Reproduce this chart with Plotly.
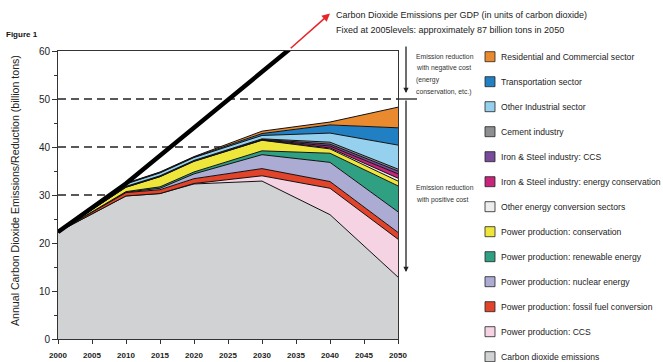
import plotly.graph_objects as go

# ---------------- data ----------------
years = [2000, 2010, 2015, 2020, 2030, 2040, 2050]

# layers, bottom to top (billion tons)
co2_emissions      = [22.3, 29.8, 30.3, 32.3, 32.9, 25.9, 12.9]
pp_ccs             = [0.0, 0.0, 0.0, 0.1, 1.1, 5.5, 7.9]
pp_fossil          = [0.0, 0.7, 0.8, 1.0, 1.5, 1.4, 1.4]
pp_nuclear         = [0.0, 0.1, 0.3, 1.0, 2.9, 4.0, 4.3]
pp_renewable       = [0.0, 0.1, 0.3, 0.4, 0.8, 1.9, 5.4]
pp_conservation    = [0.0, 0.9, 2.1, 2.2, 2.2, 0.9, 1.0]
other_energy_conv  = [0.0, 0.05, 0.05, 0.05, 0.05, 0.2, 0.6]
iron_conservation  = [0.0, 0.05, 0.05, 0.05, 0.05, 0.4, 0.9]
iron_ccs           = [0.0, 0.05, 0.05, 0.05, 0.1, 0.4, 0.6]
cement             = [0.0, 0.05, 0.05, 0.05, 0.1, 0.4, 0.4]
other_industrial   = [0.0, 0.5, 0.6, 0.6, 0.7, 1.9, 5.0]
transportation     = [0.0, 0.1, 0.1, 0.1, 0.4, 1.7, 3.6]
residential        = [0.0, 0.05, 0.1, 0.1, 0.5, 0.6, 4.3]

layer_names = [
    "Carbon dioxide emissions",
    "Power production: CCS",
    "Power production: fossil fuel conversion",
    "Power production: nuclear energy",
    "Power production: renewable energy",
    "Power production: conservation",
    "Other energy conversion sectors",
    "Iron & Steel industry: energy conservation",
    "Iron & Steel industry: CCS",
    "Cement industry",
    "Other Industrial sector",
    "Transportation sector",
    "Residential and Commercial sector",
]
layer_values = [co2_emissions, pp_ccs, pp_fossil, pp_nuclear, pp_renewable,
                pp_conservation, other_energy_conv, iron_conservation, iron_ccs,
                cement, other_industrial, transportation, residential]
layer_colors = ["#D1D2D4", "#F5D3E3", "#E2432B", "#ABABD3", "#2FA182",
                "#EFE63C", "#EDEDED", "#C8247C", "#7A4A9B", "#8D8E90",
                "#95D1EE", "#2180C3", "#EA8A2E"]

# emissions per GDP fixed at 2005 level
gdp_years = [2000, 2010, 2034]
gdp_values = [22.3, 32.4, 60.3]
gdp_arrow_tip_year = 2040
gdp_arrow_tip_value = 67.8

x_ticks = list(range(2000, 2051, 5))
y_ticks = list(range(0, 61, 10))

# ---------------- layout helpers ----------------
W, H = 663, 362
L, R, T, B = 58, 398, 51, 339
X0, X1, Y0, Y1 = 2000, 2050, 0, 60


def px(x):
    return (x - L) / (R - L)


def py(y):
    return (B - y) / (B - T)


def data_px_x(v):
    return L + (v - X0) / (X1 - X0) * (R - L)


def data_px_y(v):
    return B - (v - Y0) / (Y1 - Y0) * (B - T)


FONT = "Liberation Sans, Arial, sans-serif"

fig = go.Figure()

for name, vals, col in zip(layer_names, layer_values, layer_colors):
    fig.add_trace(go.Scatter(
        x=years, y=vals, name=name, stackgroup="one", mode="lines",
        line=dict(color="#111111", width=1), fillcolor=col,
        showlegend=False, hoverinfo="x+y+name"))

fig.add_trace(go.Scatter(
    x=gdp_years, y=gdp_values, mode="lines",
    line=dict(color="black", width=4.5), showlegend=False))

shapes = []
for yv in (30, 40, 50):
    shapes.append(dict(type="line", xref="x", yref="y", x0=2000, x1=2050,
                       y0=yv, y1=yv, layer="below",
                       line=dict(color="#222222", width=1.3, dash="8px,5px")))
# solid tick at 50 on the right
shapes.append(dict(type="line", xref="paper", yref="paper", x0=px(398), x1=px(417),
                   y0=py(99), y1=py(99), line=dict(color="#222222", width=1.3)))

annotations = []
# red arrow continuation of the GDP line (beyond the plot frame)
tip_x, tip_y = data_px_x(gdp_arrow_tip_year), data_px_y(gdp_arrow_tip_value)
tail_x, tail_y = data_px_x(gdp_years[-1]), data_px_y(gdp_values[-1])
annotations.append(dict(x=px(tip_x), y=py(tip_y), xref="paper", yref="paper",
                        ax=tail_x - tip_x, ay=tail_y - tip_y, axref="pixel", ayref="pixel",
                        showarrow=True, arrowhead=2, arrowsize=1, arrowwidth=1.6,
                        arrowcolor="#E8262A", text=""))
# vertical arrows on the right
annotations.append(dict(x=px(406), y=py(93), xref="paper", yref="paper",
                        ax=0, ay=45 - 93, axref="pixel", ayref="pixel",
                        showarrow=True, arrowhead=2, arrowsize=0.8, arrowwidth=1.3,
                        arrowcolor="#222222", text=""))
annotations.append(dict(x=px(406), y=py(272), xref="paper", yref="paper",
                        ax=0, ay=99 - 272, axref="pixel", ayref="pixel",
                        showarrow=True, arrowhead=2, arrowsize=0.8, arrowwidth=1.3,
                        arrowcolor="#222222", text=""))

# top text
annotations.append(dict(x=px(334), y=py(15), xref="paper", yref="paper",
                        text="Carbon Dioxide Emissions per GDP (in units of carbon dioxide)",
                        showarrow=False, xanchor="left", yanchor="middle",
                        font=dict(family=FONT, size=9, color="#222222")))
annotations.append(dict(x=px(334), y=py(30), xref="paper", yref="paper",
                        text="Fixed at 2005levels: approximately 87 billion tons in 2050",
                        showarrow=False, xanchor="left", yanchor="middle",
                        font=dict(family=FONT, size=9, color="#222222")))

# side notes
neg_lines = ["Emission reduction", "with negative cost", "(energy", "conservation, etc.)"]
for i, t in enumerate(neg_lines):
    annotations.append(dict(x=px(414), y=py(56.5 + 11.7 * i), xref="paper", yref="paper",
                            text=t, showarrow=False, xanchor="left", yanchor="middle",
                            font=dict(family=FONT, size=6.8, color="#333333")))
pos_lines = ["Emission reduction", "with positive cost"]
for i, t in enumerate(pos_lines):
    annotations.append(dict(x=px(414), y=py(187 + 12.5 * i), xref="paper", yref="paper",
                            text=t, showarrow=False, xanchor="left", yanchor="middle",
                            font=dict(family=FONT, size=6.8, color="#333333")))

# figure label
annotations.append(dict(x=px(4), y=py(35), xref="paper", yref="paper",
                        text="<b>Figure 1</b>", showarrow=False, xanchor="left",
                        yanchor="middle", font=dict(family=FONT, size=8, color="#111111")))

# y-axis title
annotations.append(dict(x=px(15), y=py(191), xref="paper", yref="paper",
                        text="Annual Carbon Dioxide Emissions/Reduction (billion tons)",
                        textangle=-90, showarrow=False, xanchor="center", yanchor="middle",
                        font=dict(family=FONT, size=10.6, color="#222222")))

# manual legend (top to bottom)
for i in range(len(layer_names)):
    k = len(layer_names) - 1 - i
    cy = 56.7 + 25.0 * i
    shapes.append(dict(type="rect", xref="paper", yref="paper",
                       x0=px(485), x1=px(495), y0=py(cy + 5), y1=py(cy - 5),
                       fillcolor=layer_colors[k], line=dict(color="#222222", width=0.8)))
    annotations.append(dict(x=px(498.5), y=py(cy), xref="paper", yref="paper",
                            text=layer_names[k], showarrow=False, xanchor="left",
                            yanchor="middle",
                            font=dict(family=FONT, size=8.6, color="#222222")))

fig.update_layout(
    width=W, height=H,
    margin=dict(l=L, r=W - R, t=T, b=H - B, pad=0, autoexpand=False),
    paper_bgcolor="white", plot_bgcolor="white",
    showlegend=False,
    shapes=shapes, annotations=annotations,
    xaxis=dict(range=[X0, X1], tickvals=x_ticks, ticktext=[str(v) for v in x_ticks],
               ticks="outside", ticklen=4, tickcolor="#333333", tickwidth=1,
               ticklabelstandoff=4, automargin=False,
               showline=True, linecolor="#333333", linewidth=1, mirror=True,
               showgrid=False, zeroline=False,
               tickfont=dict(family=FONT, size=8, color="#222222", weight=600)),
    yaxis=dict(range=[Y0, Y1], tickvals=y_ticks, ticks="outside", ticklen=5,
               tickcolor="#333333", tickwidth=1, automargin=False,
               minor=dict(dtick=5, ticks="outside", ticklen=3, tickcolor="#333333"),
               showline=True, linecolor="#333333", linewidth=1, mirror=True,
               showgrid=False, zeroline=False,
               tickfont=dict(family=FONT, size=10, color="#222222")),
)

fig.write_html("out.html")
